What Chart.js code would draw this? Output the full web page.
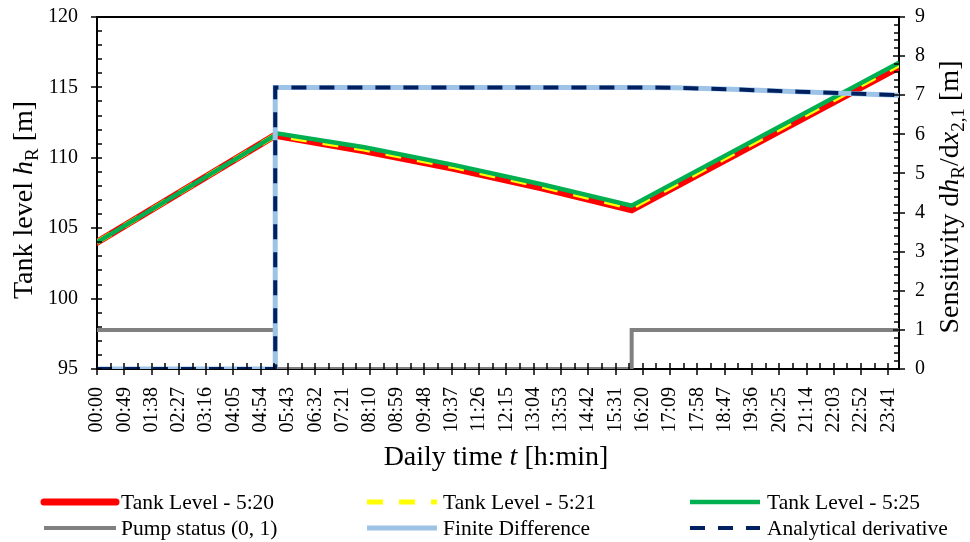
<!DOCTYPE html>
<html>
<head>
<meta charset="utf-8">
<title>Tank level and sensitivity</title>
<script src="https://cdn.jsdelivr.net/npm/chart.js@4.4.1/dist/chart.umd.min.js"></script>
<style>
    html, body { margin: 0; padding: 0; background: #fff; }
    #wrap { width: 970px; height: 542px; }
</style>
</head>
<body>
<div id="wrap"><canvas id="myChart" width="970" height="542"></canvas></div>
<script>
// x tick labels (daily time, every 49 min)
const tickLabels = ["00:00", "00:49", "01:38", "02:27", "03:16", "04:05", "04:54", "05:43", "06:32", "07:21",
    "08:10", "08:59", "09:48", "10:37", "11:26", "12:15", "13:04", "13:53", "14:42", "15:31",
    "16:20", "17:09", "17:58", "18:47", "19:36", "20:25", "21:14", "22:03", "22:52", "23:41"];

// tank level [m], time in minutes since 00:00
const times520 = [0, 320, 480, 640, 800, 960, 1440];
const level520 = [104.0, 111.6, 110.5, 109.25, 107.85, 106.3, 116.45];
const times521 = [0, 321, 480, 640, 800, 960, 1440];
const level521 = [104.0, 111.62, 110.62, 109.37, 107.97, 106.45, 116.6];
const times525 = [0, 325, 480, 640, 800, 960, 1440];
const level525 = [104.0, 111.72, 110.75, 109.5, 108.1, 106.6, 116.75];

// pump status (0, 1)
const timesPump = [0, 320, 320, 960, 960, 1440];
const pumpStatus = [1, 1, 0, 0, 1, 1];

// sensitivity dhR/dx2,1 [m]
const timesSens = [0, 320, 320, 960, 1040, 1140, 1260, 1440];
const finiteDiff = [0, 0, 7.2, 7.2, 7.19, 7.15, 7.09, 7.0];
const analytical = [0, 0, 7.2, 7.2, 7.19, 7.15, 7.09, 7.0];

const FONT = "'Liberation Serif', 'Times New Roman', serif";

const toMin = (s) => {
    const [h, m] = s.split(":").map(Number);
    return h * 60 + m;
};
const pts = (xs, ys) => xs.map((x, i) => ({ x: x, y: ys[i] }));

// rich text (italic, subscript) for axis titles
const drawRich = (ctx, parts, size, x, y, angle) => {
    const fontOf = (p) => (p.it ? "italic " : "") + (p.sub ? size * 0.68 : size) + "px " + FONT;
    let total = 0;
    parts.forEach((p) => {
        ctx.font = fontOf(p);
        total += ctx.measureText(p.t).width;
    });
    ctx.save();
    ctx.translate(x, y);
    ctx.rotate(angle);
    ctx.fillStyle = "#000";
    ctx.textBaseline = "alphabetic";
    ctx.textAlign = "left";
    let cx = -total / 2;
    parts.forEach((p) => {
        ctx.font = fontOf(p);
        ctx.fillText(p.t, cx, p.sub ? size * 0.22 : 0);
        cx += ctx.measureText(p.t).width;
    });
    ctx.restore();
};

const decor = {
    id: "decor",
    beforeDatasetsDraw(chart) {
        const { ctx, chartArea: a } = chart;
        ctx.save();
        ctx.strokeStyle = "#000";
        ctx.lineWidth = 2;
        ctx.strokeRect(a.left, a.top, a.right - a.left, a.bottom - a.top);
        ctx.restore();
    },
    afterDatasetsDraw(chart) {
        const { ctx, chartArea: a, scales } = chart;
        const line = (x1, y1, x2, y2) => {
            ctx.beginPath();
            ctx.moveTo(x1, y1);
            ctx.lineTo(x2, y2);
            ctx.stroke();
        };
        ctx.save();
        ctx.strokeStyle = "#000";
        ctx.lineWidth = 1.5;
        const xs = scales.x;
        xs.ticks.forEach((t, i, arr) => {
            const px = Math.round(xs.getPixelForValue(t.value));
            line(px, a.bottom - 6, px, a.bottom + 6);
            if (i < arr.length - 1) {
                const mx = Math.round(xs.getPixelForValue((t.value + arr[i + 1].value) / 2));
                line(mx, a.bottom - 6, mx, a.bottom);
            }
        });
        const yl = scales.y;
        for (let v = 95; v <= 120; v++) {
            const py = Math.round(yl.getPixelForValue(v));
            if (v % 5 === 0) line(a.left - 6, py, a.left + 5, py);
            else line(a.left, py, a.left + 5, py);
        }
        const yr = scales.y1;
        for (let k = 0; k <= 45; k++) {
            const py = Math.round(yr.getPixelForValue(k * 0.2));
            if (k % 5 === 0) line(a.right - 6, py, a.right + 6, py);
            else line(a.right - 5, py, a.right, py);
        }
        ctx.restore();
    },
    afterDraw(chart) {
        const { ctx } = chart;
        drawRich(ctx, [{ t: "Tank level " }, { t: "h", it: true }, { t: "R", sub: true }, { t: " [m]" }],
            28, 32, 200, -Math.PI / 2);
        drawRich(ctx, [{ t: "Sensitivity d" }, { t: "h", it: true }, { t: "R", sub: true }, { t: "/d" },
            { t: "x", it: true }, { t: "2,1", sub: true }, { t: " [m]" }],
            28, 958, 197, -Math.PI / 2);
        drawRich(ctx, [{ t: "Daily time " }, { t: "t", it: true }, { t: " [h:min]" }],
            28, 496, 465, 0);

        // legend, 3 columns x 2 rows
        const cols = [{ s: 44, e: 116, t: 121 }, { s: 367, e: 437, t: 443 }, { s: 690, e: 760, t: 767 }];
        const rows = [502, 528];
        chart.data.datasets.forEach((ds, i) => {
            const c = cols[i % 3];
            const y = rows[Math.floor(i / 3)];
            ctx.save();
            ctx.strokeStyle = ds.borderColor;
            ctx.lineWidth = ds.borderWidth;
            ctx.lineCap = ds.borderCapStyle || "butt";
            ctx.setLineDash(ds.borderDash || []);
            ctx.beginPath();
            ctx.moveTo(c.s, y);
            ctx.lineTo(c.e, y);
            ctx.stroke();
            ctx.fillStyle = "#000";
            ctx.font = "21.5px " + FONT;
            ctx.textBaseline = "middle";
            ctx.fillText(ds.label, c.t, y + 1);
            ctx.restore();
        });
    },
};

const lineSet = (label, data, color, width, axis, order, extra) => Object.assign({
    label: label,
    data: data,
    borderColor: color,
    backgroundColor: color,
    borderWidth: width,
    yAxisID: axis,
    order: order,
    pointRadius: 0,
    pointHoverRadius: 0,
    tension: 0,
    fill: false,
}, extra || {});

// pin the plot area: no extra label overhang padding
const fixBox = (w, h) => (s) => {
    if (w) s.width = w;
    if (h) s.height = h;
    s.paddingTop = 0;
    s.paddingBottom = 0;
    s.paddingLeft = 0;
    s.paddingRight = 0;
};

const renderChart = () => {
    const ctx = document.getElementById("myChart");
    new Chart(ctx, {
        type: "line",
        data: {
            datasets: [
                lineSet("Tank Level - 5:20", pts(times520, level520), "#ff0000", 7, "y", 5, { borderCapStyle: "round" }),
                lineSet("Tank Level - 5:21", pts(times521, level521), "#ffff00", 5, "y", 4, { borderDash: [16, 16] }),
                lineSet("Tank Level - 5:25", pts(times525, level525), "#00b050", 4.5, "y", 3),
                lineSet("Pump status (0, 1)", pts(timesPump, pumpStatus), "#808080", 4, "y1", 2),
                lineSet("Finite Difference", pts(timesSens, finiteDiff), "#9dc3e6", 5, "y1", 1),
                lineSet("Analytical derivative", pts(timesSens, analytical), "#002060", 4, "y1", 0, { borderDash: [15, 13] }),
            ],
        },
        options: {
            responsive: false,
            animation: false,
            devicePixelRatio: 1,
            layout: { padding: { top: 17, left: 0, right: 0, bottom: 0 } },
            plugins: {
                legend: { display: false },
                tooltip: { enabled: false },
            },
            scales: {
                x: {
                    type: "linear",
                    min: 0,
                    max: 1440,
                    grid: { display: false, drawTicks: false },
                    border: { display: false },
                    afterBuildTicks: (s) => {
                        s.ticks = tickLabels.map((l) => ({ value: toMin(l) }));
                    },
                    afterFit: fixBox(0, 173),
                    ticks: {
                        autoSkip: false,
                        maxRotation: 90,
                        minRotation: 90,
                        padding: 18,
                        color: "#000",
                        font: { family: FONT, size: 20 },
                        callback: (v, i) => tickLabels[i],
                    },
                },
                y: {
                    position: "left",
                    min: 95,
                    max: 120,
                    grid: { display: false, drawTicks: false },
                    border: { display: false },
                    afterFit: fixBox(97, 0),
                    ticks: { stepSize: 5, padding: 19, color: "#000", font: { family: FONT, size: 20 } },
                },
                y1: {
                    position: "right",
                    min: 0,
                    max: 9,
                    grid: { display: false, drawTicks: false },
                    border: { display: false },
                    afterFit: fixBox(71, 0),
                    ticks: { stepSize: 1, padding: 16, color: "#000", font: { family: FONT, size: 20 } },
                },
            },
        },
        plugins: [decor],
    });
};

renderChart();
</script>
</body>
</html>
